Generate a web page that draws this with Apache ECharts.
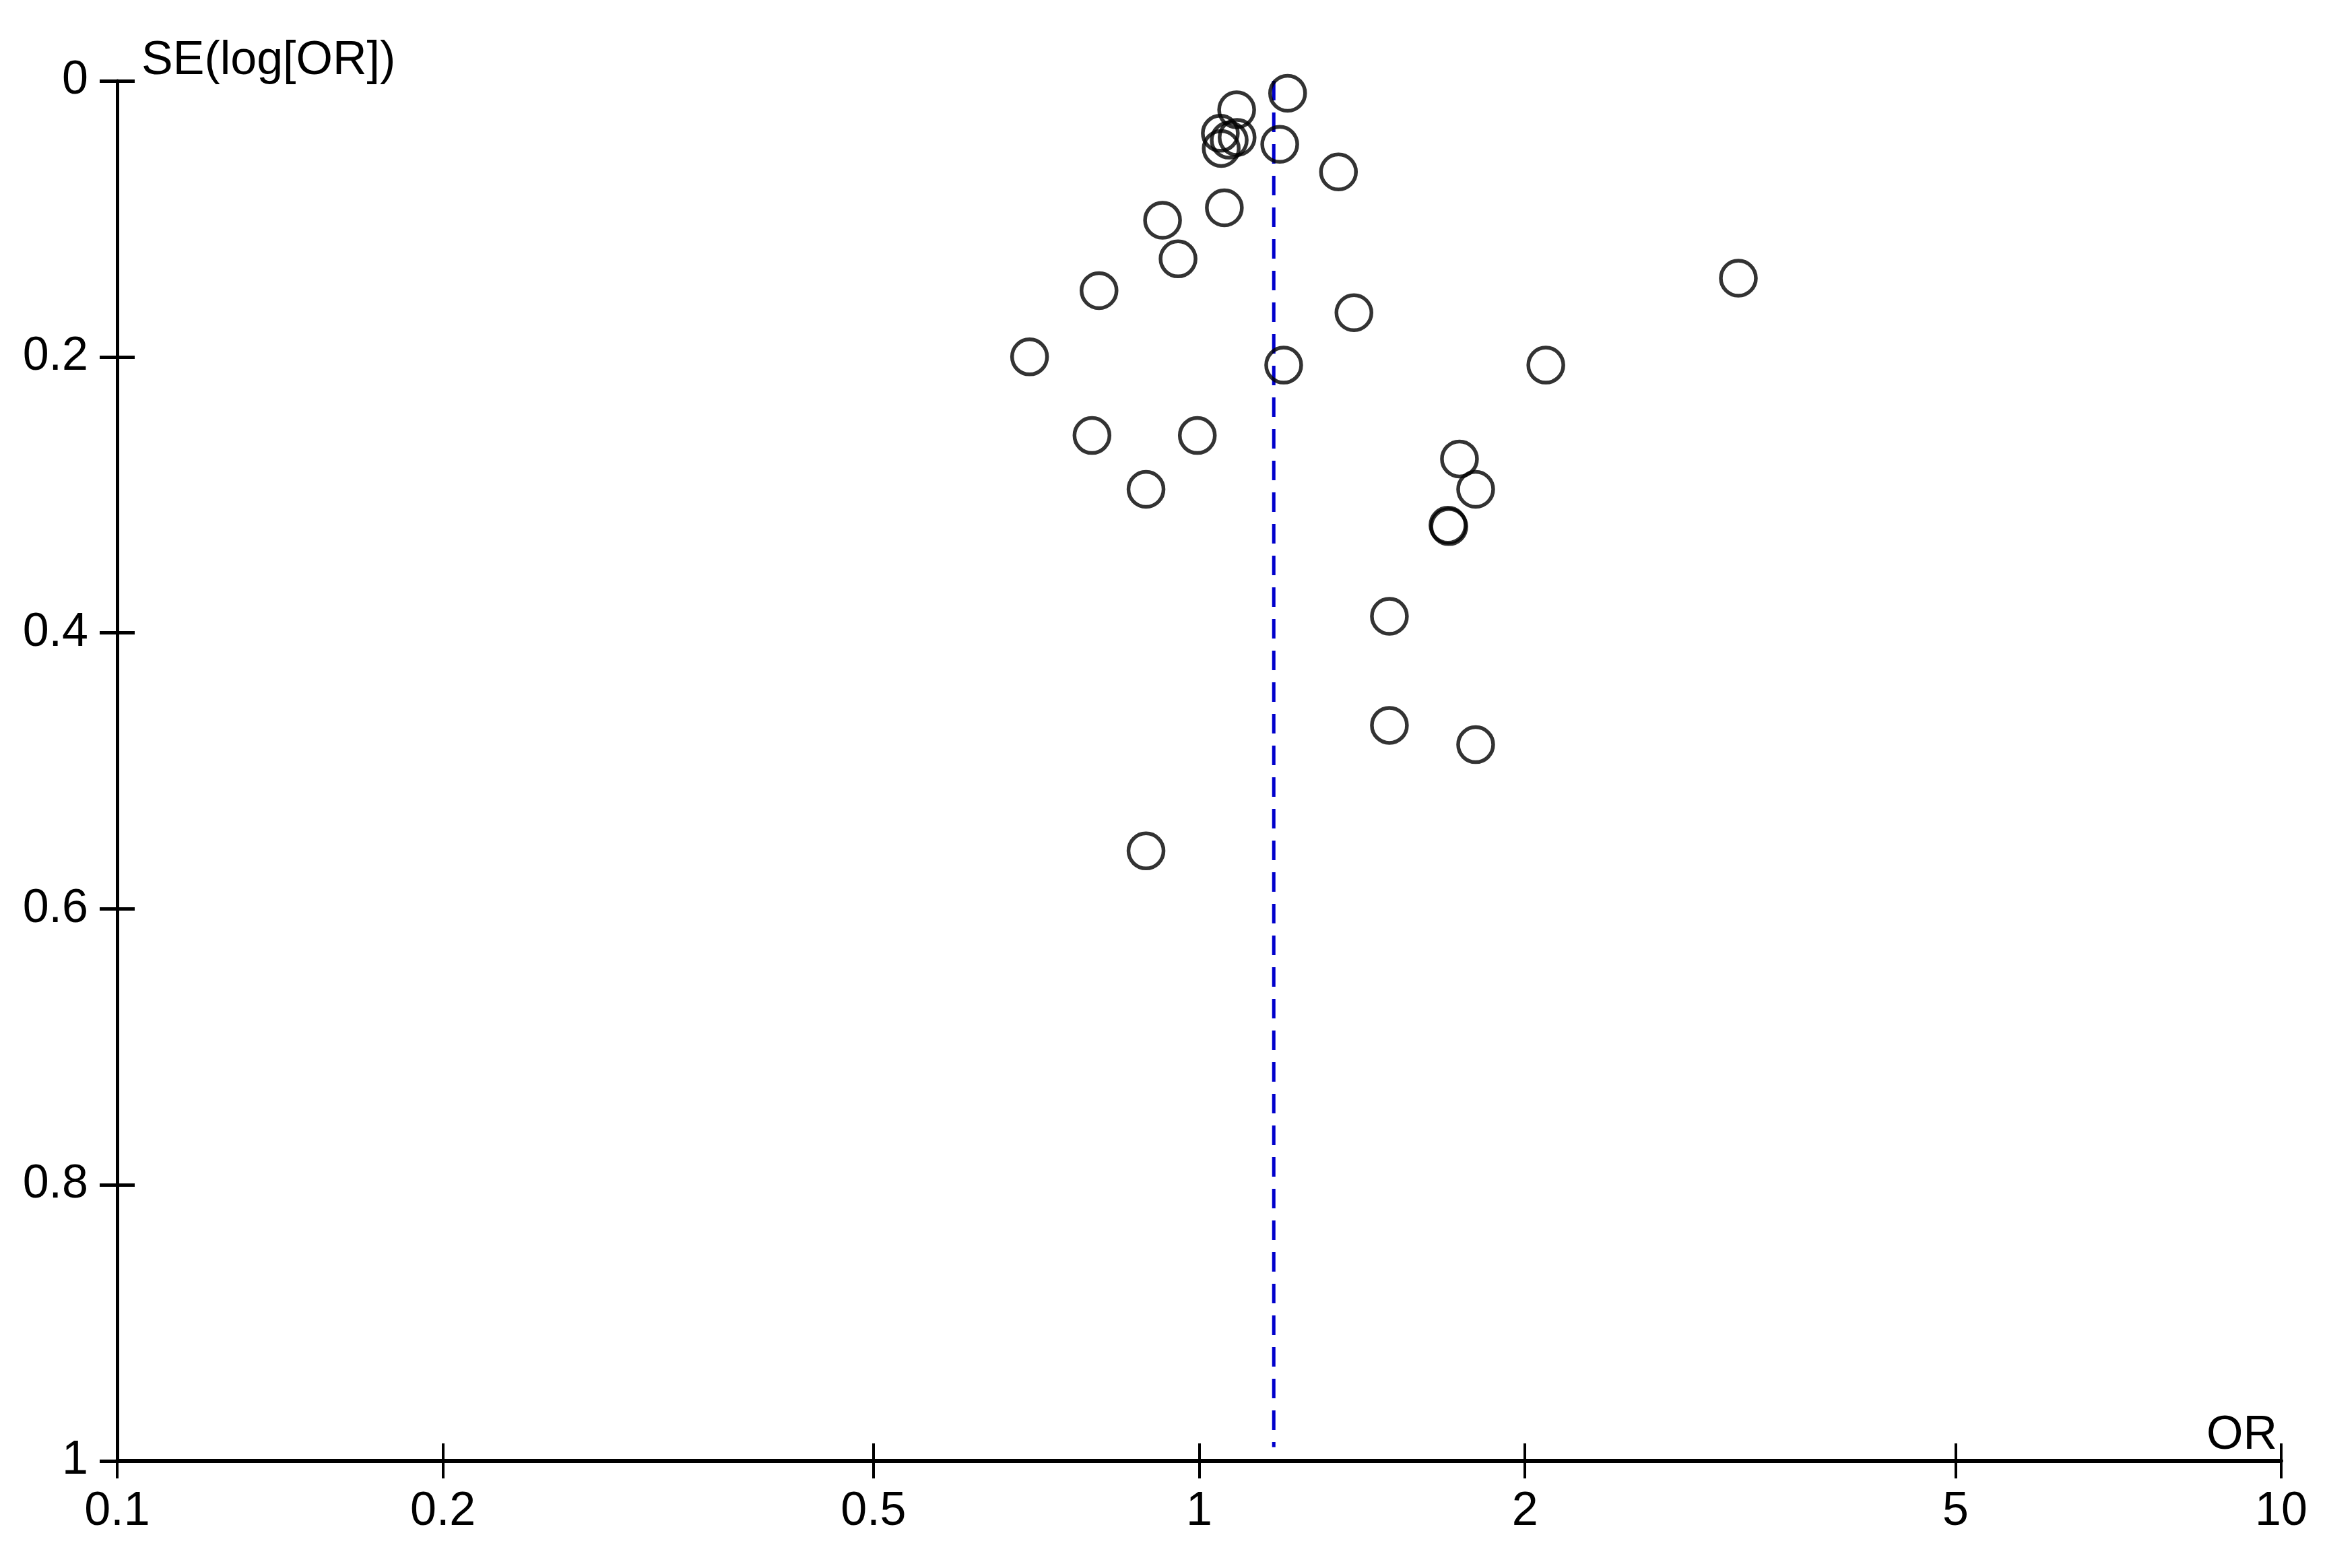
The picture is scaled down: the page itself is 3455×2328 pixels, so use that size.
<!DOCTYPE html>
<html>
<head>
<meta charset="utf-8">
<script src="https://cdn.jsdelivr.net/npm/echarts@6/dist/echarts.min.js"></script>
<style>
  html, body { margin: 0; padding: 0; background: #fff; }
  #chart { width: 3455px; height: 2328px; }
</style>
</head>
<body>
<div id="chart"></div>
<script>
// ---- data ----
const orValues = [1.207, 1.083, 1.046, 1.048, 1.084, 1.066, 1.187, 1.345, 1.055, 0.925,
                  0.956, 0.808, 3.150, 1.390, 0.697, 1.197, 2.091, 0.796, 0.996, 1.740,
                  1.801, 0.893, 1.698, 1.701, 1.499, 1.499, 1.801, 0.893];
const seValues = [0.009, 0.021, 0.038, 0.049, 0.041, 0.043, 0.046, 0.066, 0.092, 0.101,
                  0.129, 0.152, 0.143, 0.168, 0.200, 0.206, 0.206, 0.257, 0.257, 0.274,
                  0.296, 0.296, 0.322, 0.323, 0.388, 0.467, 0.481, 0.558];
const pooledOR = 1.172;
const pooledLineSE = [0, 0.99];
const xTickValues = [0.1, 0.2, 0.5, 1, 2, 5, 10];
const yTickStep = 0.2;
const xAxisName = 'OR';
const yAxisName = 'SE(log[OR])';

const FONT = "'Liberation Sans', Arial, sans-serif";
const chart = echarts.init(document.getElementById('chart'), null, { renderer: 'canvas' });

const points = orValues.map((v, i) => [v, seValues[i]]);
const pooledLine = pooledLineSE.map(s => [pooledOR, s]);

const xBase = {
  type: 'log', logBase: 10, min: 0.1, max: 10,
  gridIndex: 0, position: 'bottom', splitLine: { show: false }, minorTick: { show: false }
};
const yBase = {
  type: 'value', min: 0, max: 1, interval: yTickStep, inverse: true,
  gridIndex: 0, position: 'left', splitLine: { show: false }
};

chart.setOption({
  animation: false,
  backgroundColor: '#ffffff',
  grid: { left: 174, right: 68, top: 120, bottom: 159, containLabel: false, outerBoundsMode: 'none' },
  xAxis: [
    Object.assign({}, xBase, {
      name: xAxisName,
      nameLocation: 'end',
      nameGap: -6,
      nameTextStyle: { fontFamily: FONT, fontSize: 70, color: '#000', align: 'right', verticalAlign: 'bottom', lineHeight: 70, padding: [0, 0, 2, 0] },
      axisLine: { show: true, onZero: false, lineStyle: { color: '#000', width: 6 } },
      axisTick: { show: true, inside: false, length: 26, lineStyle: { color: '#000', width: 4 }, customValues: xTickValues },
      axisLabel: { show: true, margin: 41, fontFamily: FONT, fontSize: 70, lineHeight: 70, color: '#000',
                   customValues: xTickValues, formatter: v => String(+(+v).toPrecision(3)) }
    }),
    Object.assign({}, xBase, {
      axisLine: { show: false, onZero: false },
      axisTick: { show: true, inside: true, length: 26, lineStyle: { color: '#000', width: 4 }, customValues: xTickValues },
      axisLabel: { show: false, customValues: xTickValues }
    })
  ],
  yAxis: [
    Object.assign({}, yBase, {
      name: yAxisName,
      nameLocation: 'start',
      nameGap: -6,
      nameTextStyle: { fontFamily: FONT, fontSize: 70, color: '#000', align: 'left', verticalAlign: 'bottom', lineHeight: 70, padding: [0, 0, 0, 36] },
      axisLine: { show: true, onZero: false, lineStyle: { color: '#000', width: 5 } },
      axisTick: { show: true, inside: false, length: 26, lineStyle: { color: '#000', width: 5 } },
      axisLabel: { show: true, margin: 43, fontFamily: FONT, fontSize: 70, color: '#000',
                   formatter: v => String(+(+v).toFixed(1)) }
    }),
    Object.assign({}, yBase, {
      axisLine: { show: false, onZero: false },
      axisTick: { show: true, inside: true, length: 26, lineStyle: { color: '#000', width: 5 } },
      axisLabel: { show: false }
    })
  ],
  series: [
    {
      type: 'line',
      xAxisIndex: 0, yAxisIndex: 0,
      data: pooledLine,
      symbol: 'none',
      silent: true,
      lineStyle: { color: '#0000CC', width: 5, type: [29, 18] },
      z: 1
    },
    {
      type: 'scatter',
      xAxisIndex: 0, yAxisIndex: 0,
      data: points,
      symbol: 'circle',
      symbolSize: 52,
      itemStyle: { color: 'rgba(0,0,0,0)', borderColor: '#000', borderWidth: 5.5 },
      z: 2
    }
  ]
});
</script>
</body>
</html>
